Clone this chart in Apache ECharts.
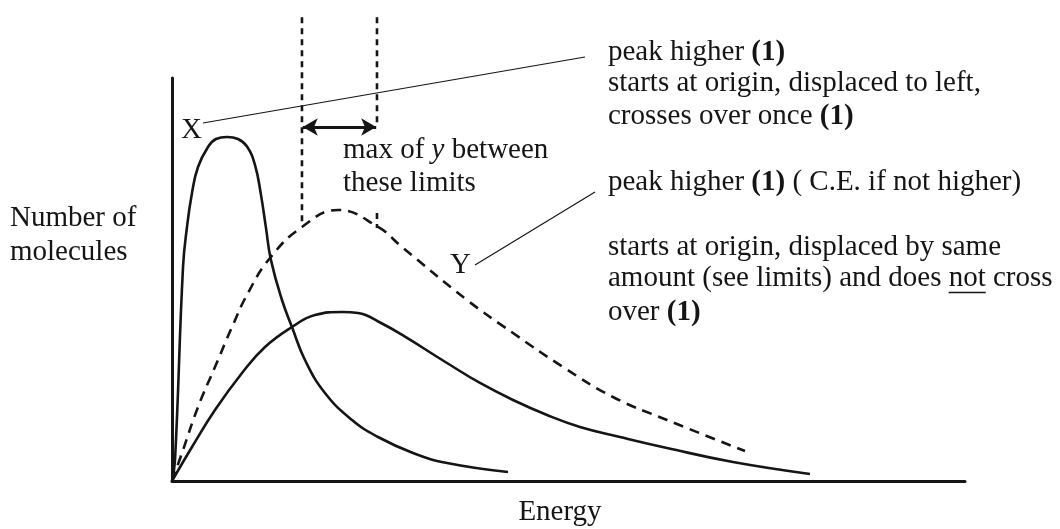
<!DOCTYPE html>
<html><head><meta charset="utf-8">
<script src="https://cdn.jsdelivr.net/npm/echarts@6/dist/echarts.min.js"></script>
<style>html,body{margin:0;padding:0;background:#fff}#c{width:1060px;height:529px}</style>
</head><body><div id="c"></div>
<script>
// Curve X: sharp, tall peak displaced to the left
const curveX = [[0,0],[0.38,5.21],[1.39,53.10],[1.89,63.03],[2.52,71.46],[3.28,77.92],[4.54,82.88],[5.55,84.86],[6.94,85.36],[8.32,84.86],[9.46,83.0],[10.47,78.4],[11.22,71.0],[11.85,62.8],[12.48,54.8],[13.87,44.91],[15.13,38.21],[16.77,30.02],[19.29,21.84],[22.70,15.14],[25.98,10.92],[30.39,6.95],[34.68,4.47],[42.37,2.23]];
// Original (lower) curve
const curveBase = [[0,0],[2.52,8.44],[5.42,17.62],[8.83,26.80],[11.73,33.25],[15.13,38.21],[18.03,41.19],[21.44,41.94],[23.46,41.69],[26.36,39.2],[29.38,35.8],[34.68,29.28],[38.84,24.32],[43.00,20.10],[47.29,16.38],[51.45,13.40],[56.49,10.92],[62.42,8.19],[70.74,4.71],[80.45,1.74]];
// Curve Y: dashed, higher peak displaced to the right limits
const curveY = [[0,0],[1.26,6.95],[3.28,18.36],[5.42,28.29],[7.57,38.21],[9.58,46.65],[12.36,55.33],[16.39,63.03],[20.93,67.25],[25.98,63.03],[29.00,58.06],[37.20,44.91],[43.00,36.72],[49.31,28.29],[55.61,20.84],[62.42,15.14],[72.26,7.44]];
// Limits for the maximum of Y
const limitsX = [16.39, 25.85];
const limitsTop = 115.1;
const limitsBottom = [64.0, 62.8];
const rightLimitGap = [87.84, 66.5];
const arrowLevel = 87.84;
// Pointer lines from the labels to the notes
const pointerX = [[3.91,88.83],[52.08,105.21]];
const pointerY = [[38.21,53.60],[53.34,71.71]];
// Texts
const notesTop = ['peak higher {b|(1)}','starts at origin, displaced to left,','crosses over once {b|(1)}'];
const notesMid = ['peak higher {b|(1)} ( C.E. if not higher)'];
const notesBottom = ['starts at origin, displaced by same','amount (see limits) and does not cross','over {b|(1)}'];
const limitNote = ['max of {i|y} between','these limits'];
const yTitle = ['Number of','molecules'];
const xTitle = 'Energy';

const INK = '#151515';
const FF = '"Liberation Serif","Times New Roman",serif';
const FS = 29;

const chart = echarts.init(document.getElementById('c'), null, {renderer:'canvas'});

function txt(s, x, baseline, align) {
  return {type:'text', x:x, y:baseline - 9.8, silent:true,
    style:{text:s, fontFamily:FF, fontSize:FS, fill:INK, align:align||'left', verticalAlign:'middle',
      rich:{b:{fontFamily:FF,fontSize:FS,fontWeight:'bold',fill:INK}, i:{fontFamily:FF,fontSize:FS,fontStyle:'italic',fill:INK}}}};
}
const graphics = [];
notesTop.forEach((s,k)=>graphics.push(txt(s,608,[62,93,126][k])));
notesMid.forEach((s,k)=>graphics.push(txt(s,608,192)));
notesBottom.forEach((s,k)=>graphics.push(txt(s,608,[257,288,322][k])));
limitNote.forEach((s,k)=>graphics.push(txt(s,343,[160,193][k])));
yTitle.forEach((s,k)=>graphics.push(txt(s,10,[228,262][k])));
graphics.push(txt('X',181,140));
graphics.push(txt('Y',450,275));
graphics.push(txt(xTitle,560,522,'center'));
// underline of "not"
const cv = document.createElement('canvas').getContext('2d');
cv.font = FS + 'px ' + FF;
const pre = cv.measureText('amount (see limits) and does ').width;
const wn = cv.measureText('not').width;
graphics.push({type:'line', silent:true, shape:{x1:608+pre, y1:292.5, x2:608+pre+wn, y2:292.5}, style:{stroke:INK, lineWidth:1.5}});

function curve(name, data, dashed) {
  return {name:name, type:'line', data:data, smooth:0.45, showSymbol:false, symbol:'none', clip:false,
    lineStyle:{color:INK, width:2.6, type: dashed ? [10,7] : 'solid', cap:'butt'}, z:3};
}
function plain(data, width, type) {
  return {type:'line', data:data, showSymbol:false, symbol:'none', clip:false, silent:true,
    lineStyle:{color:INK, width:width, type:type||'solid'}, z:2};
}

const series = [
  curve('X', curveX, false),
  curve('base', curveBase, false),
  curve('Y', curveY, true),
  plain([[limitsX[0],limitsTop],[limitsX[0],limitsBottom[0]]], 2.6, [6,5]),
  plain([[limitsX[1],limitsTop],[limitsX[1],rightLimitGap[0]]], 2.6, [6,5]),
  plain([[limitsX[1],rightLimitGap[1]],[limitsX[1],limitsBottom[1]]], 2.6, [6,5]),
  plain(pointerX, 1.2),
  plain(pointerY, 1.2),
  {type:'line', data:[], silent:true,
    markLine:{silent:true, symbol:['arrow','arrow'], symbolSize:[13,15], label:{show:false},
      lineStyle:{color:INK, width:3, type:'solid'},
      data:[[{coord:[limitsX[0]+0.1, arrowLevel]},{coord:[limitsX[1]-0.1, arrowLevel]}]]}}
];

chart.setOption({
  animation:false,
  backgroundColor:'#fff',
  grid:{left:172, right:95, top:78, bottom:48},
  xAxis:{type:'value', min:0, max:100, axisLine:{show:true, onZero:false, lineStyle:{color:INK, width:3}},
    axisTick:{show:false}, axisLabel:{show:false}, splitLine:{show:false}},
  yAxis:{type:'value', min:0, max:100, axisLine:{show:true, onZero:false, lineStyle:{color:INK, width:3}},
    axisTick:{show:false}, axisLabel:{show:false}, splitLine:{show:false}},
  series:series,
  graphic:graphics
});
</script></body></html>
